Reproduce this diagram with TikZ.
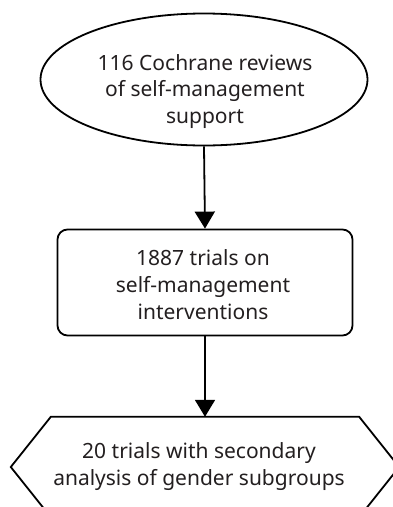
\documentclass[tikz,border=0pt]{standalone}
\usepackage{fontspec}
\setmainfont{Noto Sans}
\usetikzlibrary{shapes.geometric,arrows.meta}
\definecolor{txt}{HTML}{231F20}
\tikzset{
  every node/.style={text=txt, align=center, font=\fontsize{21}{26.8}\selectfont},
  shp/.style={draw=black, line width=1.8pt, inner sep=0pt},
  conn/.style={draw=black, line width=1.8pt, -{Triangle[width=20pt,length=17pt]}}
}
\begin{document}
\begin{tikzpicture}[x=1pt,y=-1pt]
\useasboundingbox (0,0) rectangle (393,507);
\clip (0,0) rectangle (393,507);
\node[shp, ellipse, minimum width=327pt, minimum height=132pt] (rev) at (204,79.5) {};
\node (revt) at (205,91.5) {116 Cochrane reviews\\of self-management\\support};
\node[shp, rounded corners=10pt, minimum width=295pt, minimum height=106pt] (tri) at (205,282.5) {};
\node (trit) at (203,284.5) {1887 trials on\\self-management\\interventions};
\node[minimum width=308pt, minimum height=100pt, inner sep=0pt] (hex) at (205,467) {};
\node (hext) at (199,466.5) {20 trials with secondary\\analysis of gender subgroups};
\draw[shp] (hex.north west) -- (hex.north east) -- ([xshift=40pt]hex.east) -- (hex.south east) -- (hex.south west) -- ([xshift=-40pt]hex.west) -- cycle;
\draw[conn] (rev.south) -- (tri.north);
\draw[conn] (tri.south) -- (hex.north);
\end{tikzpicture}
\end{document}
